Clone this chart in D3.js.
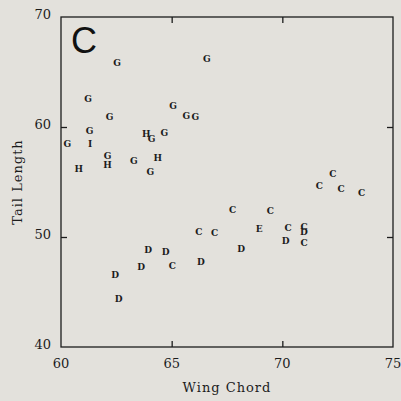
<!DOCTYPE html>
<html>
<head>
<meta charset="utf-8">
<script src="https://cdn.jsdelivr.net/npm/d3@7"></script>
<style>
  body { margin: 0; background: #e3e1dc; }
  svg { display: block; }
</style>
</head>
<body>
<div id="viz"></div>
<script>
// Wing chord vs tail length, each point drawn as its group letter
const labels = ["G","G","G","G","G","G","G","G","H","G","G","G","I","G","H","H","G","H","G",
                "C","C","C","D","D","D","C","D","D","D",
                "C","C","C","C","C","E","C","C","D","D","C","D"];
const wingChord = [62.54,66.59,61.22,65.06,65.66,66.07,62.19,61.29,63.85,64.09,64.67,60.29,61.31,62.1,62.1,60.8,63.29,64.37,64.04,
                   67.75,66.23,66.94,63.94,64.73,63.62,65.03,66.32,62.45,62.6,
                   72.28,71.67,72.66,73.58,69.46,68.95,70.26,70.98,70.98,70.15,70.98,68.14];
const tailLength = [65.86,66.22,62.59,61.96,61.02,60.93,60.93,59.66,59.36,58.9,59.51,58.51,58.45,57.42,56.52,56.18,56.91,57.21,55.88,
                    52.49,50.47,50.38,48.87,48.63,47.33,47.39,47.75,46.6,44.37,
                    55.76,54.67,54.34,53.98,52.38,50.72,50.85,50.9,50.45,49.68,49.47,48.93];
const xTicks = [60, 65, 70, 75];
const yTicks = [40, 50, 60, 70];

const width = 401, height = 401;
const margin = { left: 61, right: 393, top: 17, bottom: 347 };

const svg = d3.select("#viz").append("svg")
    .attr("width", width)
    .attr("height", height);

svg.append("rect")
    .attr("width", width)
    .attr("height", height)
    .attr("fill", "#e3e1dc");

const x = d3.scaleLinear().domain([60, 75]).range([margin.left, margin.right]);
const y = d3.scaleLinear().domain([40, 70]).range([margin.bottom, margin.top]);

const ink = "#1c1c1c";
const serif = "'DejaVu Serif', 'Liberation Serif', serif";

// frame
svg.append("rect")
    .attr("x", margin.left)
    .attr("y", margin.top)
    .attr("width", margin.right - margin.left)
    .attr("height", margin.bottom - margin.top)
    .attr("fill", "none")
    .attr("stroke", ink)
    .attr("stroke-width", 1.3);

// inward ticks on all four sides
const inner = 6;
svg.append("g")
    .attr("transform", `translate(0,${margin.bottom})`)
    .call(d3.axisBottom(x).tickValues([65, 70]).tickSize(-inner).tickFormat(""))
    .call(g => g.select(".domain").remove());
svg.append("g")
    .attr("transform", `translate(0,${margin.top})`)
    .call(d3.axisTop(x).tickValues([65, 70]).tickSize(-inner).tickFormat(""))
    .call(g => g.select(".domain").remove());
svg.append("g")
    .attr("transform", `translate(${margin.left},0)`)
    .call(d3.axisLeft(y).tickValues([50, 60]).tickSize(-inner).tickFormat(""))
    .call(g => g.select(".domain").remove());
svg.append("g")
    .attr("transform", `translate(${margin.right},0)`)
    .call(d3.axisRight(y).tickValues([50, 60]).tickSize(-inner).tickFormat(""))
    .call(g => g.select(".domain").remove());
svg.selectAll(".tick line").attr("stroke", ink).attr("stroke-width", 1.3);

// tick labels
svg.append("g").selectAll("text")
    .data(xTicks)
    .join("text")
    .attr("x", d => x(d))
    .attr("y", margin.bottom + 21)
    .attr("text-anchor", "middle")
    .attr("font-family", serif)
    .attr("font-size", "13px")
    .attr("fill", ink)
    .text(d => d);

svg.append("g").selectAll("text")
    .data(yTicks)
    .join("text")
    .attr("x", margin.left - 10)
    .attr("y", d => y(d) + 2)
    .attr("text-anchor", "end")
    .attr("font-family", serif)
    .attr("font-size", "13px")
    .attr("fill", ink)
    .text(d => d);

// axis titles
svg.append("text")
    .attr("x", (margin.left + margin.right) / 2)
    .attr("y", 392)
    .attr("text-anchor", "middle")
    .attr("font-family", serif)
    .attr("font-size", "13px")
    .attr("letter-spacing", "1px")
    .attr("fill", ink)
    .text("Wing Chord");

svg.append("text")
    .attr("transform", `translate(22,${(margin.top + margin.bottom) / 2}) rotate(-90)`)
    .attr("text-anchor", "middle")
    .attr("font-family", serif)
    .attr("font-size", "13px")
    .attr("letter-spacing", "1px")
    .attr("fill", ink)
    .text("Tail Length");

// panel letter
svg.append("text")
    .attr("x", 71)
    .attr("y", 53)
    .attr("font-family", "'Liberation Sans', Arial, sans-serif")
    .attr("font-size", "36px")
    .attr("fill", "#111")
    .text("C");

// points as letters
svg.append("g").selectAll("text")
    .data(labels.map((l, i) => ({ l, w: wingChord[i], t: tailLength[i] })))
    .join("text")
    .attr("x", d => x(d.w))
    .attr("y", d => y(d.t))
    .attr("dy", "0.35em")
    .attr("text-anchor", "middle")
    .attr("font-family", serif)
    .attr("font-size", "9px")
    .attr("font-weight", "bold")
    .attr("fill", ink)
    .text(d => d.l);
</script>
</body>
</html>
